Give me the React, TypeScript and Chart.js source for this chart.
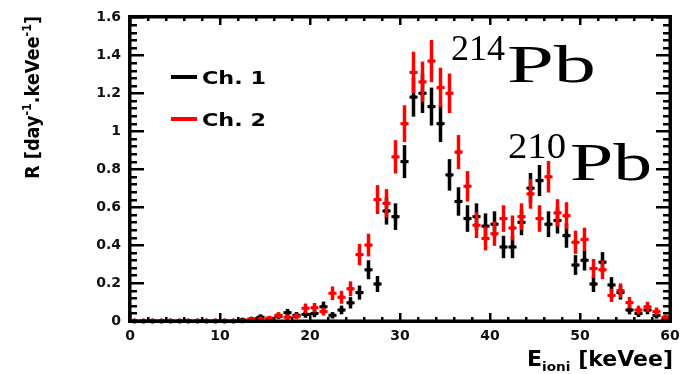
import React, { useEffect, useRef } from "react";
import { Chart, registerables } from "chart.js";

Chart.register(...registerables);

// Bin centres (keVee)
const energy = [0.5,1.5,2.5,3.5,4.5,5.5,6.5,7.5,8.5,9.5,10.5,11.5,12.5,13.5,14.5,15.5,16.5,17.5,18.5,19.5,20.5,21.5,22.5,23.5,24.5,25.5,26.5,27.5,28.5,29.5,30.5,31.5,32.5,33.5,34.5,35.5,36.5,37.5,38.5,39.5,40.5,41.5,42.5,43.5,44.5,45.5,46.5,47.5,48.5,49.5,50.5,51.5,52.5,53.5,54.5,55.5,56.5,57.5,58.5,59.5];

// Ch. 1 (black)
const ch1 = [0,0,0,0,0,0,0,0,0,0,0,0,
  0.005,0.01,0.02,0.012,0.025,0.044,0.03,0.035,0.04,0.075,
  0.03,0.058,0.096,0.15,0.27,0.195,0.58,0.55,0.84,1.18,
  1.2,1.13,1.04,0.77,0.63,0.54,0.55,0.5,0.51,0.39,
  0.39,0.52,0.7,0.74,0.51,0.53,0.45,0.295,0.32,0.195,
  0.31,0.19,0.15,0.058,0.04,0.058,0.03,0.01];
const ch1Err = [0,0,0,0,0,0,0,0,0,0,0,0,
  0.01,0.01,0.015,0.012,0.015,0.02,0.017,0.018,0.02,0.027,
  0.017,0.023,0.03,0.037,0.05,0.042,0.072,0.07,0.087,0.103,
  0.104,0.1,0.097,0.083,0.075,0.07,0.07,0.067,0.068,0.059,
  0.059,0.068,0.08,0.082,0.068,0.069,0.064,0.052,0.054,0.042,
  0.053,0.041,0.037,0.023,0.019,0.023,0.017,0.01];

// Ch. 2 (red)
const ch2 = [0,0,0,0,0,0,0,0,0,0,0,0,0,
  0.008,0.01,0.015,0.03,0.02,0.025,0.067,0.07,0.05,
  0.146,0.125,0.17,0.35,0.4,0.64,0.62,0.865,1.04,1.31,
  1.26,1.37,1.23,1.2,0.89,0.71,0.505,0.435,0.46,0.54,
  0.49,0.55,0.67,0.54,0.76,0.57,0.555,0.415,0.43,0.277,
  0.27,0.135,0.16,0.097,0.058,0.075,0.05,0.02];
const ch2Err = [0,0,0,0,0,0,0,0,0,0,0,0,0,
  0.009,0.01,0.012,0.017,0.014,0.015,0.025,0.025,0.021,
  0.036,0.034,0.039,0.056,0.06,0.076,0.075,0.088,0.097,0.109,
  0.107,0.111,0.105,0.104,0.09,0.08,0.068,0.063,0.064,0.07,
  0.066,0.07,0.078,0.07,0.083,0.072,0.071,0.061,0.062,0.05,
  0.049,0.035,0.038,0.03,0.023,0.026,0.021,0.013];

const xTicks = [0, 10, 20, 30, 40, 50, 60];
const xTickLabels = ["0", "10", "20", "30", "40", "50", "60"];
const yTicks = [0, 0.2, 0.4, 0.6, 0.8, 1, 1.2, 1.4, 1.6];
const yTickLabels = ["0", "0.2", "0.4", "0.6", "0.8", "1", "1.2", "1.4", "1.6"];
const seriesLabels = ["Ch. 1", "Ch. 2"];
const seriesColors = ["#000000", "#ff0000"];
const peakMass = ["214", "210"];
const peakElement = "Pb";

const SANS = "'DejaVu Sans', sans-serif";
const SERIF = "'Liberation Serif', serif";

function drawStretched(ctx: CanvasRenderingContext2D, text: string, font: string, x: number, y: number, targetW: number) {
  ctx.save();
  ctx.font = font;
  const w = ctx.measureText(text).width;
  ctx.translate(x, y);
  ctx.scale(targetW / w, 1);
  ctx.textAlign = "left";
  ctx.textBaseline = "alphabetic";
  ctx.fillText(text, 0, 0);
  ctx.restore();
}

function drawFrame(chart: any) {
  const ctx: CanvasRenderingContext2D = chart.ctx;
  const xs = chart.scales.x;
  const ys = chart.scales.y;
  const L = Math.round(xs.getPixelForValue(0));
  const R = Math.round(xs.getPixelForValue(60));
  const B = Math.round(ys.getPixelForValue(0));
  const T = Math.round(ys.getPixelForValue(1.6));
  ctx.save();
  ctx.setTransform(1, 0, 0, 1, 0, 0);
  ctx.globalAlpha = 1;
  ctx.globalCompositeOperation = "source-over";
  ctx.fillStyle = "#000000";
  for (let k = 0; k <= 40; k++) {
    const py = Math.round(ys.getPixelForValue(k * 0.04));
    const len = k % 5 === 0 ? 14 : 7;
    ctx.fillRect(L, py - 1, len, 2.5);
    ctx.fillRect(R - len, py - 1, len, 2.5);
  }
  for (let k = 0; k <= 30; k++) {
    const px = Math.round(xs.getPixelForValue(k * 2));
    const len = k % 5 === 0 ? 8 : 4;
    ctx.fillRect(px - 1, B - len, 2.5, len);
    ctx.fillRect(px - 1, T, 2.5, len);
  }
  // frame box
  ctx.fillRect(L - 2, T - 2, R - L + 4, 3.5);
  ctx.fillRect(L - 2, B - 1.5, R - L + 4, 3.5);
  ctx.fillRect(L - 2, T - 2, 3.5, B - T + 4);
  ctx.fillRect(R - 1.5, T - 2, 3.5, B - T + 4);
  ctx.restore();
}

function drawErrors(chart: any, index: number) {
  const ds = chart.data.datasets[index];
  const errs: number[] = ds.errors;
  const xs = chart.scales.x, ys = chart.scales.y;
  const ctx = chart.ctx;
  ctx.save();
  ctx.strokeStyle = ds.borderColor;
  ctx.lineCap = "butt";
  ds.data.forEach((p: any, i: number) => {
    const px = xs.getPixelForValue(p.x);
    const py = ys.getPixelForValue(p.y);
    const e = errs[i];
    if (e > 0) {
      ctx.lineWidth = 3.5;
      ctx.beginPath();
      ctx.moveTo(px, ys.getPixelForValue(p.y - e));
      ctx.lineTo(px, ys.getPixelForValue(p.y + e));
      ctx.stroke();
    }
    ctx.lineWidth = 3;
    ctx.beginPath();
    ctx.moveTo(xs.getPixelForValue(p.x - 0.45), py);
    ctx.lineTo(xs.getPixelForValue(p.x + 0.45), py);
    ctx.stroke();
  });
  ctx.restore();
}

const framePlugin = {
  id: "rootFrame",
  beforeDatasetDraw(chart: any, args: any) {
    drawErrors(chart, args.index);
  },
  afterDraw(chart: any) {
    const { ctx } = chart;
    drawFrame(chart);
    ctx.save();
    ctx.fillStyle = "#000";
    // Legend
    chart.data.datasets.slice().sort((a: any, b: any) => a.legendIdx - b.legendIdx).forEach((ds: any, i: number) => {
      const y = 77 + i * 42;
      ctx.strokeStyle = ds.borderColor;
      ctx.lineWidth = 4;
      ctx.beginPath();
      ctx.moveTo(171, y); ctx.lineTo(197, y);
      ctx.stroke();
      ctx.fillStyle = "#000";
      drawStretched(ctx, ds.label, `bold 18px ${SANS}`, 202, y + 7, 64);
    });

    // Peak labels
    ctx.fillStyle = "#000";
    drawStretched(ctx, peakMass[0], `35px ${SERIF}`, 451, 60, 54);
    drawStretched(ctx, peakElement, `52px ${SERIF}`, 507, 82, 89);
    drawStretched(ctx, peakMass[1], `35px ${SERIF}`, 508, 158, 58);
    drawStretched(ctx, peakElement, `52px ${SERIF}`, 570, 180, 82);

    // X title: E_ioni [keVee]
    {
      const mainF = `bold 21px ${SANS}`;
      const subF = `bold 13px ${SANS}`;
      ctx.font = mainF; const wE = ctx.measureText("E").width; const wR = ctx.measureText(" [keVee]").width;
      ctx.font = subF; const wS = ctx.measureText("ioni").width;
      const total = wE + wS + wR;
      const target = 146;
      const sx = target / total;
      ctx.save();
      ctx.translate(673 - target, 366);
      ctx.scale(sx, 1);
      ctx.textBaseline = "alphabetic";
      ctx.font = mainF; ctx.fillText("E", 0, 0);
      ctx.font = subF; ctx.fillText("ioni", wE, 5);
      ctx.font = mainF; ctx.fillText(" [keVee]", wE + wS, 0);
      ctx.restore();
    }

    // Y title: R [day^-1.keVee^-1]
    {
      const mainF = `bold 16px ${SANS}`;
      const supF = `bold 10px ${SANS}`;
      const parts: [string, boolean][] = [["R [day", false], ["-1", true], [".keVee", false], ["-1", true], ["]", false]];
      let total = 0;
      const widths = parts.map(([t, s]) => { ctx.font = s ? supF : mainF; const w = ctx.measureText(t).width; total += w; return w; });
      const target = 163;
      ctx.save();
      ctx.translate(39, 179);
      ctx.rotate(-Math.PI / 2);
      ctx.scale(target / total, 1.2);
      ctx.textBaseline = "alphabetic";
      let x = 0;
      parts.forEach(([t, s], i) => {
        ctx.font = s ? supF : mainF;
        ctx.fillText(t, x, s ? -7 : 0);
        x += widths[i];
      });
      ctx.restore();
    }
    ctx.restore();
  },
};

export default function App() {
  const ref = useRef<HTMLCanvasElement>(null);
  useEffect(() => {
    if (!ref.current) return;
    const chart = new Chart(ref.current, {
      type: "scatter",
      data: {
        datasets: [
          {
            label: seriesLabels[0],
            data: energy.map((e, i) => ({ x: e, y: ch1[i] })),
            errors: ch1Err,
            legendIdx: 0,
            borderColor: seriesColors[0],
            backgroundColor: seriesColors[0],
            pointRadius: 2.5,
            pointBorderWidth: 0,
            order: 2,
            clip: false,
          } as any,
          {
            label: seriesLabels[1],
            data: energy.map((e, i) => ({ x: e, y: ch2[i] })),
            errors: ch2Err,
            legendIdx: 1,
            borderColor: seriesColors[1],
            backgroundColor: seriesColors[1],
            pointRadius: 2.5,
            pointBorderWidth: 0,
            order: 1,
            clip: false,
          } as any,
        ],
      },
      options: {
        responsive: false,
        animation: false,
        devicePixelRatio: 1,
        layout: { padding: { left: 0, right: 18, top: 17, bottom: 0 } },
        plugins: { legend: { display: false }, tooltip: { enabled: false } },
        scales: {
          x: {
            type: "linear",
            min: 0,
            max: 60,
            afterFit: (s: any) => { s.height = 53; },
            afterBuildTicks: (s: any) => { s.ticks = xTicks.map((v) => ({ value: v })); },
            grid: { display: false, drawTicks: false },
            border: { display: false },
            ticks: {
              padding: 7,
              color: "#111",
              font: { family: SANS, size: 14, weight: "bold" },
              maxRotation: 0,
              autoSkip: false,
              callback: (_v: any, i: number) => xTickLabels[i],
            },
          },
          y: {
            type: "linear",
            min: 0,
            max: 1.6,
            afterFit: (s: any) => { s.width = 130; },
            afterBuildTicks: (s: any) => { s.ticks = yTicks.map((v) => ({ value: v })); },
            grid: { display: false, drawTicks: false },
            border: { display: false },
            ticks: {
              padding: 9,
              color: "#111",
              font: { family: SANS, size: 14, weight: "bold" },
              autoSkip: false,
              callback: (_v: any, i: number) => yTickLabels[i],
            },
          },
        },
      } as any,
      plugins: [framePlugin],
    });
    return () => chart.destroy();
  }, []);
  return (
    <div style={{ position: "fixed", left: 0, top: 0, width: 688, height: 374, background: "#fff" }}>
      <canvas ref={ref} width={688} height={374} style={{ display: "block", width: 688, height: 374 }} />
    </div>
  );
}
